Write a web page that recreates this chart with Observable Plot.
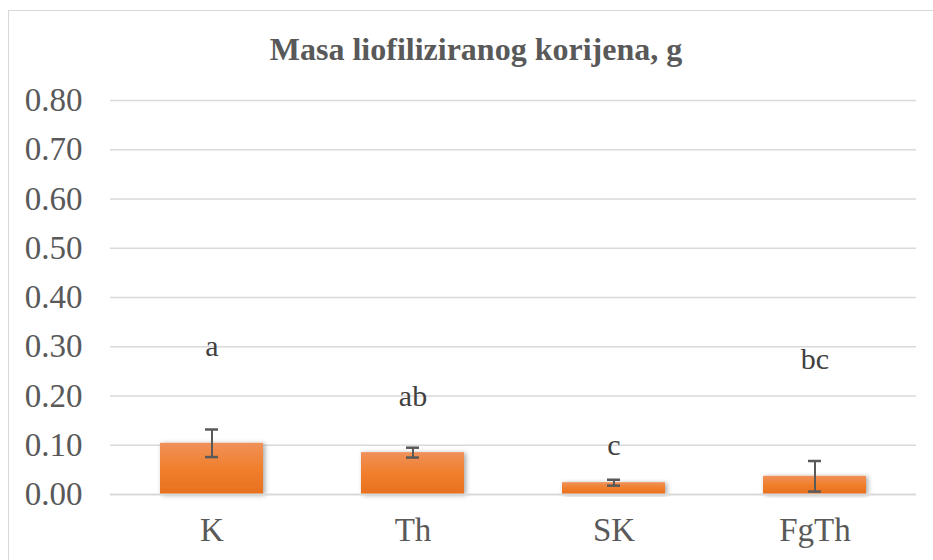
<!DOCTYPE html>
<html><head><meta charset="utf-8">
<script src="https://cdn.jsdelivr.net/npm/d3@7"></script>
<script src="https://cdn.jsdelivr.net/npm/@observablehq/plot@0.6"></script>
<style>
body{margin:0;background:#fff;}
#wrap{position:relative;width:933px;height:560px;overflow:hidden;}
#frame{position:absolute;left:8px;top:10px;width:940px;height:600px;border:1.5px solid #d9d9d9;box-sizing:border-box;}
#title{position:absolute;left:0;width:952px;top:31px;text-align:center;font-family:'Liberation Serif',serif;font-weight:bold;font-size:32px;color:#595959;}
#chart{position:absolute;left:0;top:0;}
</style></head>
<body><div id="wrap"><div id="frame"></div><div id="chart"></div><div id="title">Masa liofiliziranog korijena, g</div></div>
<script>
const categories = ["K","Th","SK","FgTh"];
const means = [0.104, 0.085, 0.024, 0.037];
const errors = [0.028, 0.010, 0.006, 0.031];
const letters = ["a","ab","c","bc"];
const letterY = [0.30, 0.20, 0.10, 0.275];
const yTicks = [0,0.1,0.2,0.3,0.4,0.5,0.6,0.7,0.8];

const data = categories.map((c,i)=>({cat:c, v:means[i], lo:means[i]-errors[i], hi:means[i]+errors[i], letter:letters[i], ly:letterY[i]}));

const plot = Plot.plot({
  width:933, height:560,
  marginTop:100, marginBottom:66, marginLeft:110, marginRight:17,
  style:{fontFamily:"'Liberation Serif',serif", fontSize:"33px", color:"#595959", background:"transparent"},
  x:{domain:categories, paddingInner:0.49, paddingOuter:0.245, label:null, tickSize:0, tickPadding:23},
  y:{domain:[0,0.8], ticks:yTicks, tickFormat:d3.format(".2f"), label:null, tickSize:0, tickPadding:28},
  marks:[
    Plot.gridY(yTicks.filter(d=>d>0), {stroke:"#d9d9d9", strokeOpacity:1, strokeWidth:1.5}),
    Plot.barY(data, {x:"cat", y:"v", fill:"url(#barGrad)"}),
    Plot.ruleY([0], {stroke:"#d9d9d9", strokeWidth:2}),
    Plot.ruleX(data, {x:"cat", y1:"lo", y2:"hi", stroke:"#595959", strokeWidth:2}),
    Plot.tickY(data, {x:"cat", y:"hi", stroke:"#595959", strokeWidth:2.5, inset:45}),
    Plot.tickY(data, {x:"cat", y:"lo", stroke:"#595959", strokeWidth:2.5, inset:45}),
    Plot.text(data, {x:"cat", y:"ly", text:"letter", fill:"#404040", fontSize:30})
  ]
});
const defs = document.createElementNS("http://www.w3.org/2000/svg","defs");
defs.innerHTML = `<linearGradient id="barGrad" x1="0" y1="0" x2="0" y2="1">
<stop offset="0" stop-color="#f0915a"/><stop offset="0.5" stop-color="#f07f2c"/><stop offset="1" stop-color="#e8701e"/></linearGradient>
<filter id="sh" x="-10%" y="-20%" width="125%" height="140%"><feDropShadow dx="2" dy="1" stdDeviation="2.5" flood-color="#000" flood-opacity="0.35"/></filter>`;
plot.insertBefore(defs, plot.firstChild);
plot.querySelectorAll("rect").forEach(r=>{ if((r.getAttribute("fill")||r.parentNode.getAttribute("fill")||"").includes("barGrad")) r.setAttribute("filter","url(#sh)"); });
document.getElementById("chart").appendChild(plot);
</script></body></html>
